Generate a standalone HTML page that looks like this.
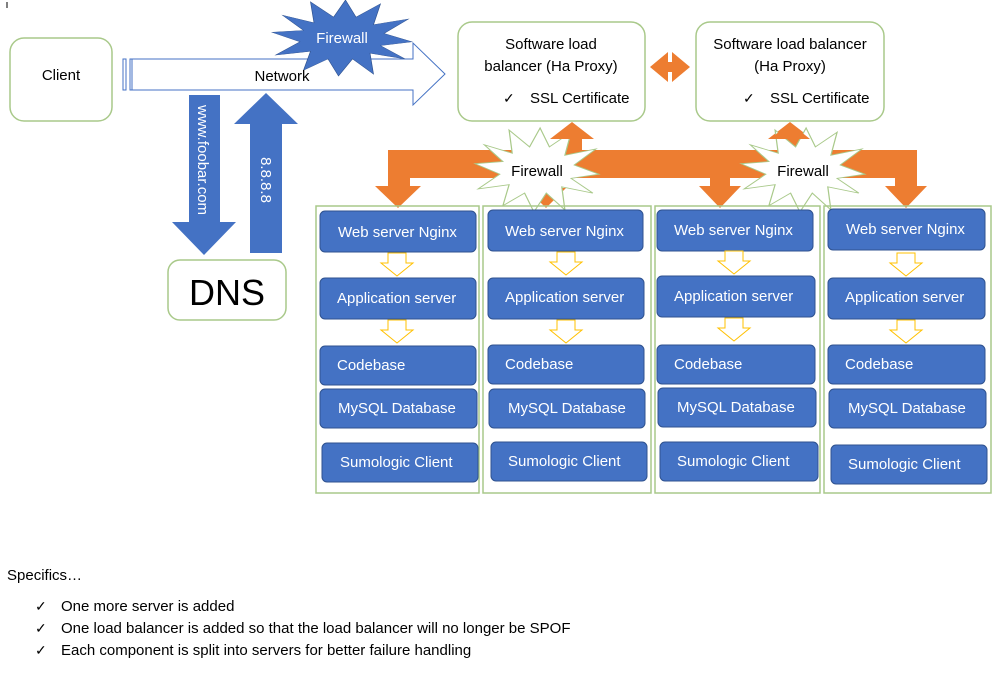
<!DOCTYPE html>
<html><head><meta charset="utf-8"><style>
body{margin:0;background:#fff;}
svg{display:block;font-family:"Liberation Sans",sans-serif;}
</style></head><body>
<svg width="997" height="681" viewBox="0 0 997 681" xmlns="http://www.w3.org/2000/svg">
<defs>
<polygon id="star" points="1,0.1 0.55,0.2 0.9,0.55 0.4,0.4 0.45,0.95 0.15,0.55 -0.05,1 -0.2,0.55 -0.55,0.85 -0.45,0.35 -0.95,0.45 -0.6,0.1 -1,-0.15 -0.55,-0.2 -0.85,-0.6 -0.4,-0.4 -0.45,-0.95 -0.12,-0.55 0.05,-1 0.2,-0.55 0.55,-0.9 0.45,-0.35 0.95,-0.5 0.6,-0.12"/>
</defs>
<line x1="7" y1="2" x2="7" y2="8" stroke="#000"/>
<rect x="10" y="38" width="102" height="83" rx="14" fill="#fff" stroke="#A9C98A" stroke-width="1.5"/>
<text x="61" y="80" font-size="15" text-anchor="middle">Client</text>
<rect x="123" y="59" width="3" height="31" fill="#fff" stroke="#4472C4"/>
<polygon points="130,59 413,59 413,43 445,74 413,105 413,90 130,90" fill="#fff" stroke="#4472C4" stroke-width="1"/>
<line x1="132" y1="59" x2="132" y2="90" stroke="#4472C4"/>
<g transform="translate(342,38) scale(70,38)"><use href="#star" fill="#4472C4" stroke="#2F528F" stroke-width="0.01"/></g>
<text x="342" y="43" font-size="15" fill="#fff" text-anchor="middle">Firewall</text>
<text x="282" y="81" font-size="15" text-anchor="middle">Network</text>
<polygon points="189,95 220,95 220,222 236,222 204,255 172,222 189,222" fill="#4472C4"/>
<text transform="translate(198,105) rotate(90)" font-size="15" fill="#fff">www.foobar.com</text>
<polygon points="250,253 282,253 282,124 298,124 266,93 234,124 250,124" fill="#4472C4"/>
<text transform="translate(261,180) rotate(90)" font-size="15" fill="#fff" text-anchor="middle">8.8.8.8</text>
<rect x="168" y="260" width="118" height="60" rx="12" fill="#fff" stroke="#A9C98A" stroke-width="1.5"/>
<text x="227" y="305" font-size="36" text-anchor="middle">DNS</text>
<rect x="458" y="22" width="187" height="99" rx="14" fill="#fff" stroke="#A9C98A" stroke-width="1.5"/>
<text x="551" y="49" font-size="15" text-anchor="middle">Software load</text>
<text x="551" y="71" font-size="15" text-anchor="middle">balancer (Ha Proxy)</text>
<text x="503" y="103" font-size="14">✓</text><text x="530" y="103" font-size="15">SSL Certificate</text>
<rect x="696" y="22" width="188" height="99" rx="14" fill="#fff" stroke="#A9C98A" stroke-width="1.5"/>
<text x="790" y="49" font-size="15" text-anchor="middle">Software load balancer</text>
<text x="790" y="71" font-size="15" text-anchor="middle">(Ha Proxy)</text>
<text x="743" y="103" font-size="14">✓</text><text x="770" y="103" font-size="15">SSL Certificate</text>
<polygon points="650,67 668,52 668,62 672,62 672,52 690,67 672,82 672,72 668,72 668,82" fill="#ED7D31"/>
<g fill="#ED7D31">
<rect x="388" y="150" width="529" height="28" rx="4"/>
<rect x="388" y="150" width="22" height="36"/>
<polygon points="375,186 421,186 398,208"/>
<rect x="562" y="135" width="20" height="20"/>
<polygon points="550,139 594,139 572,122"/>
<rect x="780" y="135" width="20" height="20"/>
<polygon points="768,139 812,139 790,122"/>
<rect x="536" y="175" width="20" height="15"/>
<polygon points="526,188 566,188 546,208"/>
<rect x="710" y="175" width="20" height="11"/>
<polygon points="699,186 741,186 720,208"/>
<rect x="895" y="150" width="22" height="36"/>
<polygon points="885,186 927,186 906,208"/>
</g>
<g transform="translate(537,170) scale(62,42)"><use href="#star" fill="#fff" stroke="#A9C98A" stroke-width="0.02"/></g>
<text x="537" y="176" font-size="15" text-anchor="middle">Firewall</text>
<g transform="translate(803,170) scale(62,42)"><use href="#star" fill="#fff" stroke="#A9C98A" stroke-width="0.02"/></g>
<text x="803" y="176" font-size="15" text-anchor="middle">Firewall</text>
<g fill="#ED7D31">
<polygon points="552,139 592,139 572,123"/>
<polygon points="770,139 810,139 790,123"/>
</g>
<g fill="none" stroke="#A9C98A" stroke-width="1.5">
<rect x="316" y="206" width="163" height="287"/>
<rect x="483" y="206" width="168" height="287"/>
<rect x="655" y="206" width="165" height="287"/>
<rect x="824" y="206" width="167" height="287"/>
</g>
<g fill="#4472C4" stroke="#2F528F" stroke-width="1">
<rect x="320" y="211" width="156" height="41" rx="5"/><rect x="320" y="278" width="156" height="41" rx="5"/><rect x="320" y="346" width="156" height="39" rx="5"/><rect x="320" y="389" width="157" height="39" rx="5"/><rect x="322" y="443" width="156" height="39" rx="5"/>
<rect x="488" y="210" width="155" height="41" rx="5"/><rect x="488" y="278" width="156" height="41" rx="5"/><rect x="488" y="345" width="156" height="39" rx="5"/><rect x="489" y="389" width="156" height="39" rx="5"/><rect x="491" y="442" width="156" height="39" rx="5"/>
<rect x="657" y="210" width="156" height="41" rx="5"/><rect x="657" y="276" width="158" height="41" rx="5"/><rect x="657" y="345" width="158" height="39" rx="5"/><rect x="658" y="388" width="158" height="39" rx="5"/><rect x="660" y="442" width="158" height="39" rx="5"/>
<rect x="828" y="209" width="157" height="41" rx="5"/><rect x="828" y="278" width="157" height="41" rx="5"/><rect x="828" y="345" width="157" height="39" rx="5"/><rect x="829" y="389" width="157" height="39" rx="5"/><rect x="831" y="445" width="156" height="39" rx="5"/>
</g>
<g font-size="15" fill="#fff">
<text x="338" y="237">Web server Nginx</text><text x="337" y="303">Application server</text><text x="337" y="370">Codebase</text><text x="338" y="413">MySQL Database</text><text x="340" y="467">Sumologic Client</text>
<text x="505" y="236">Web server Nginx</text><text x="505" y="302">Application server</text><text x="505" y="369">Codebase</text><text x="508" y="413">MySQL Database</text><text x="508" y="466">Sumologic Client</text>
<text x="674" y="235">Web server Nginx</text><text x="674" y="301">Application server</text><text x="674" y="369">Codebase</text><text x="677" y="412">MySQL Database</text><text x="677" y="466">Sumologic Client</text>
<text x="846" y="234">Web server Nginx</text><text x="845" y="302">Application server</text><text x="845" y="369">Codebase</text><text x="848" y="413">MySQL Database</text><text x="848" y="469">Sumologic Client</text>
</g>
<g fill="#fff" stroke="#FFC000" stroke-width="1">
<polygon points="388,253 406,253 406,263 413,263 397,276 381,263 388,263"/>
<polygon points="388,320 406,320 406,330 413,330 397,343 381,330 388,330"/>
<polygon points="557,252 575,252 575,262 582,262 566,275 550,262 557,262"/>
<polygon points="557,320 575,320 575,330 582,330 566,343 550,330 557,330"/>
<polygon points="725,251 743,251 743,261 750,261 734,274 718,261 725,261"/>
<polygon points="725,318 743,318 743,328 750,328 734,341 718,328 725,328"/>
<polygon points="897,253 915,253 915,263 922,263 906,276 890,263 897,263"/>
<polygon points="897,320 915,320 915,330 922,330 906,343 890,330 897,330"/>
</g>
<g font-size="15">
<text x="7" y="580">Specifics…</text>
<text x="35" y="611" font-size="14">✓</text><text x="61" y="611">One more server is added</text>
<text x="35" y="633" font-size="14">✓</text><text x="61" y="633">One load balancer is added so that the load balancer will no longer be SPOF</text>
<text x="35" y="655" font-size="14">✓</text><text x="61" y="655">Each component is split into servers for better failure handling</text>
</g>
</svg>
</body></html>
